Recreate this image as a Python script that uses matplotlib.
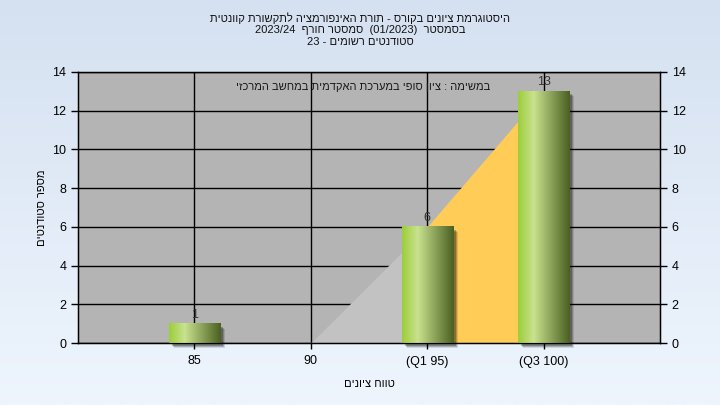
import matplotlib
matplotlib.use("Agg")
import matplotlib.pyplot as plt
import matplotlib.transforms as mtransforms
from matplotlib.colors import LinearSegmentedColormap
from matplotlib.patches import Rectangle
import numpy as np

plt.rcParams["font.family"] = ["Liberation Sans", "DejaVu Sans"]

# data
categories = ["85", "90", "(Q1 95)", "(Q3 100)"]
counts = [1, 0, 6, 13]
area_gray = [0, 0, 6]      # from 85 to Q1
area_orange = [6, 13]      # Q1 to Q3
y_ticks = [0, 2, 4, 6, 8, 10, 12, 14]

title_lines = [
    "היסטוגרמת ציונים בקורס - תורת האינפורמציה לתקשורת קוונטית",
    "בסמסטר  (01/2023)  סמסטר חורף  2023/24",
    "סטודנטים רשומים - 23",
]
note = "במשימה : ציון סופי במערכת האקדמית במחשב המרכזי"
x_label = "טווח ציונים"
y_label = "מספר סטודנטים"


def rtl(s):
    # matplotlib has no bidi: flip word order and reverse the Hebrew words
    out = []
    for tok in s.split(" ")[::-1]:
        if any("\u0590" <= ch <= "\u05ff" for ch in tok):
            tok = tok[::-1]
        out.append(tok)
    return " ".join(out)


fig = plt.figure(figsize=(7.2, 4.05), dpi=100)

# figure background gradient
bg = fig.add_axes([0, 0, 1, 1], zorder=-10)
grad = np.linspace(0, 1, 256).reshape(-1, 1)
bg_cmap = LinearSegmentedColormap.from_list("bg", ["#d5e1f1", "#eef5fd"])
bg.imshow(grad, aspect="auto", cmap=bg_cmap, extent=[0, 1, 0, 1])
bg.axis("off")

ax = fig.add_axes([78 / 720, 62 / 405, 582 / 720, 271 / 405])
ax.set_facecolor("#b4b4b4")
x = np.arange(1, len(categories) + 1)

# area behind the bars
ax.fill_between(x[:3], area_gray, color="#c2c2c2", lw=0, zorder=1)
ax.fill_between(x[2:4], area_orange, color="#ffcc58", lw=0, zorder=1)
ax.plot(x[:2], area_gray[:2], color="#c8c8c8", lw=1, zorder=1)

ax.set_axisbelow(True)
ax.grid(True, color="black", lw=1)

bar_cmap = LinearSegmentedColormap.from_list(
    "bar", [(0, "#9ccd3a"), (0.3, "#c9e28e"), (1, "#4a6022")])
w = 0.44
for xi, v in zip(x, counts):
    if v <= 0:
        continue
    for k, a in ((5, 0.12), (4, 0.18), (3, 0.25)):
        off = mtransforms.ScaledTranslation(k / 100, -k / 100, fig.dpi_scale_trans)
        ax.add_patch(Rectangle((xi - w / 2, 0), w, v, color="black", alpha=a,
                               lw=0, transform=ax.transData + off,
                               zorder=3, clip_on=False))
    ax.imshow(np.linspace(0, 1, 128).reshape(1, -1), cmap=bar_cmap,
              aspect="auto", extent=[xi - w / 2, xi + w / 2, 0, v], zorder=4)
    ax.text(xi, v + 0.15, str(v), ha="center", va="bottom",
            fontsize=9, color="#333333", zorder=5)

ax.set_xlim(0, len(categories) + 1)
ax.set_ylim(0, 14)
ax.set_xticks(x)
ax.set_xticklabels(categories, fontsize=9)
ax.set_yticks(y_ticks)
ax.tick_params(axis="y", labelsize=9, length=5, width=1)
ax.tick_params(axis="x", length=4, width=1, pad=5)
for s in ax.spines.values():
    s.set_color("black")
    s.set_linewidth(1)

ax2 = ax.twinx()
ax2.set_ylim(0, 14)
ax2.set_yticks(y_ticks)
ax2.tick_params(axis="y", labelsize=9, length=5, width=1)

ax.set_xlabel(rtl(x_label), fontsize=8, labelpad=8)
ax.set_ylabel(rtl(y_label), fontsize=8, labelpad=4)

ax.text(0.708, 0.945, rtl(note), transform=ax.transAxes, ha="right",
        va="center", fontsize=8, color="#1a1a1a", zorder=6)

for i, line in enumerate(title_lines):
    fig.text(0.5, 1 - (18 + 12 * i) / 405, rtl(line), ha="center",
             va="center", fontsize=8, color="#111111")

fig.savefig("out.png", dpi=100)
